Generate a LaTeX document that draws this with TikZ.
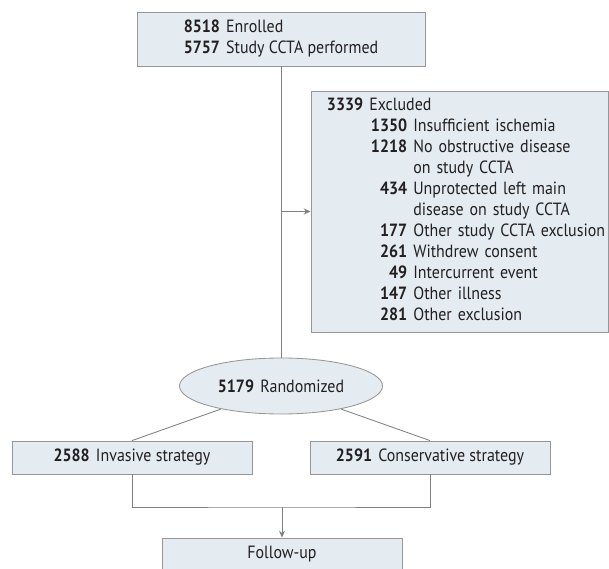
\documentclass[tikz,border=0pt]{standalone}
\usepackage{fontspec}
\setmainfont{PT Sans}[FakeStretch=0.9]
\usetikzlibrary{arrows.meta,positioning,shapes.geometric}
\definecolor{boxfill}{RGB}{228,236,241}
\definecolor{boxline}{RGB}{150,150,150}
\definecolor{flowline}{RGB}{128,128,128}
\definecolor{txtdark}{RGB}{35,31,32}
\newcommand{\flowfont}{\fontsize{12.6}{14.9}\selectfont}
\newcommand{\numgap}{\hspace{0.35em}}
\tikzset{
  fbox/.style ={rectangle, draw=boxline, fill=boxfill, line width=0.6pt,
                inner sep=0pt, text=txtdark, font=\flowfont},
  fround/.style={ellipse, draw=boxline, fill=boxfill, line width=0.6pt,
                 inner sep=0pt, text=txtdark, font=\flowfont,
                 minimum width=5.075cm, minimum height=1.4cm},
  farm/.style ={fbox, minimum width=6cm, minimum height=0.825cm},
  fline/.style ={flowline, line width=0.6pt},
  farrow/.style={fline, -{Stealth[length=1.7mm, width=1.5mm]}},
}

\begin{document}
\begin{tikzpicture}[x=0.025cm, y=-0.025cm]
  \useasboundingbox (0,0) rectangle (609,569);
  % boxes
  \node[fbox, minimum width=7.2cm, minimum height=1.35cm, align=left] (enrol) at (281,39)
    {\begin{tabular}{@{}r@{\numgap}l@{}}
      \textbf{8518} & Enrolled\\
      \textbf{5757} & Study CCTA performed
     \end{tabular}};
  \node[fbox, minimum width=7.425cm, minimum height=6.025cm, inner xsep=0.4cm,
        text width=6.625cm, align=left] (excl) at (459.5,211.5)
    {\begin{tabular}{@{}l@{}r@{\numgap}l@{}}
      \multicolumn{3}{@{}l@{}}{\textbf{3339}\numgap Excluded}\\
      \hspace*{1.1cm} & \textbf{1350} & Insufficient ischemia\\
      & \textbf{1218} & No obstructive disease\\
      & & on study CCTA\\
      & \textbf{434} & Unprotected left main\\
      & & disease on study CCTA\\
      & \textbf{177} & Other study CCTA exclusion\\
      & \textbf{261} & Withdrew consent\\
      & \textbf{49} & Intercurrent event\\
      & \textbf{147} & Other illness\\
      & \textbf{281} & Other exclusion
     \end{tabular}};
  \node[fround] (rand) at (281,386) {\textbf{5179}\numgap Randomized};
  \node[farm] (inv) at (132,457.5) {\textbf{2588}\numgap Invasive strategy};
  \node[farm] (cons) at (430,457.5) {\textbf{2591}\numgap Conservative strategy};
  \node[farm] (fu) at (282,554.5) {Follow-up};
  \coordinate (side) at (281,211.5);
  \coordinate (join) at (282,507);
  % connectors
  \draw[fline] (enrol.south) -- (rand.north);
  \draw[farrow] (side) -- (excl.west);
  \draw[fline] (rand.201) -- (inv.north);
  \draw[fline] (rand.339) -- (cons.north);
  \draw[fline] (inv.south) |- (join) -| (cons.south);
  \draw[farrow] (join) -- (fu.north);
\end{tikzpicture}
\end{document}
